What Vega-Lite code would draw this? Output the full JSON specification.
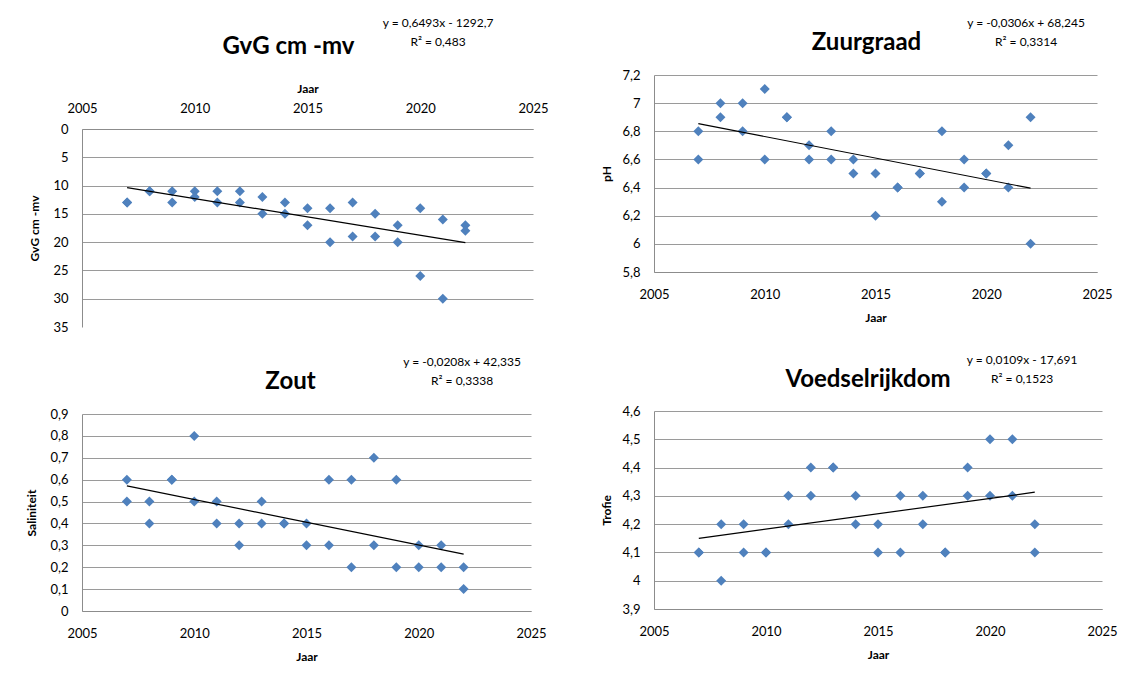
{
  "$schema": "https://vega.github.io/schema/vega-lite/v6.json",
  "background": "white",
  "padding": {"left": 25, "top": 17, "right": 0, "bottom": 0},
  "config": {
    "locale": {"number": {"decimal": ",", "thousands": ".", "grouping": [3], "currency": ["€", ""]}},
    "font": "Lato",
    "view": {"stroke": null},
    "title": {"font": "Lato", "color": "#000000"},
    "axis": {
      "domainColor": "#8c8c8c",
      "domainWidth": 1,
      "gridColor": "#9a9a9a",
      "gridWidth": 1,
      "ticks": false,
      "labelFont": "Lato",
      "labelFontSize": 13,
      "labelColor": "#000000",
      "titleFont": "Lato",
      "titleFontSize": 12,
      "titleFontWeight": "bold",
      "titleColor": "#000000"
    },
    "axisX": {"grid": false, "labelPadding": 16, "titlePadding": 11, "format": "d", "labelFlush": false},
    "axisY": {"grid": true, "labelPadding": 14, "titlePadding": 8, "format": "~g"}
  },
  "datasets": {
    "gvg": [
      {"Jaar": 2007, "Waarde": 13}, {"Jaar": 2007, "Waarde": 13},
      {"Jaar": 2008, "Waarde": 11}, {"Jaar": 2008, "Waarde": 11},
      {"Jaar": 2009, "Waarde": 11}, {"Jaar": 2009, "Waarde": 13},
      {"Jaar": 2010, "Waarde": 11}, {"Jaar": 2010, "Waarde": 12},
      {"Jaar": 2011, "Waarde": 11}, {"Jaar": 2011, "Waarde": 13},
      {"Jaar": 2012, "Waarde": 11}, {"Jaar": 2012, "Waarde": 13},
      {"Jaar": 2013, "Waarde": 12}, {"Jaar": 2013, "Waarde": 15},
      {"Jaar": 2014, "Waarde": 13}, {"Jaar": 2014, "Waarde": 15},
      {"Jaar": 2015, "Waarde": 14}, {"Jaar": 2015, "Waarde": 17},
      {"Jaar": 2016, "Waarde": 14}, {"Jaar": 2016, "Waarde": 20},
      {"Jaar": 2017, "Waarde": 13}, {"Jaar": 2017, "Waarde": 19},
      {"Jaar": 2018, "Waarde": 15}, {"Jaar": 2018, "Waarde": 19},
      {"Jaar": 2019, "Waarde": 17}, {"Jaar": 2019, "Waarde": 20},
      {"Jaar": 2020, "Waarde": 14}, {"Jaar": 2020, "Waarde": 26},
      {"Jaar": 2021, "Waarde": 16}, {"Jaar": 2021, "Waarde": 30},
      {"Jaar": 2022, "Waarde": 17}, {"Jaar": 2022, "Waarde": 18}
    ],
    "ph": [
      {"Jaar": 2007, "Waarde": 6.8}, {"Jaar": 2007, "Waarde": 6.6},
      {"Jaar": 2008, "Waarde": 7.0}, {"Jaar": 2008, "Waarde": 6.9},
      {"Jaar": 2009, "Waarde": 7.0}, {"Jaar": 2009, "Waarde": 6.8},
      {"Jaar": 2010, "Waarde": 7.1}, {"Jaar": 2010, "Waarde": 6.6},
      {"Jaar": 2011, "Waarde": 6.9}, {"Jaar": 2011, "Waarde": 6.9},
      {"Jaar": 2012, "Waarde": 6.7}, {"Jaar": 2012, "Waarde": 6.6},
      {"Jaar": 2013, "Waarde": 6.8}, {"Jaar": 2013, "Waarde": 6.6},
      {"Jaar": 2014, "Waarde": 6.6}, {"Jaar": 2014, "Waarde": 6.5},
      {"Jaar": 2015, "Waarde": 6.5}, {"Jaar": 2015, "Waarde": 6.2},
      {"Jaar": 2016, "Waarde": 6.4}, {"Jaar": 2016, "Waarde": 6.4},
      {"Jaar": 2017, "Waarde": 6.5}, {"Jaar": 2017, "Waarde": 6.5},
      {"Jaar": 2018, "Waarde": 6.8}, {"Jaar": 2018, "Waarde": 6.3},
      {"Jaar": 2019, "Waarde": 6.6}, {"Jaar": 2019, "Waarde": 6.4},
      {"Jaar": 2020, "Waarde": 6.5}, {"Jaar": 2020, "Waarde": 6.5},
      {"Jaar": 2021, "Waarde": 6.7}, {"Jaar": 2021, "Waarde": 6.4},
      {"Jaar": 2022, "Waarde": 6.9}, {"Jaar": 2022, "Waarde": 6.0}
    ],
    "zout": [
      {"Jaar": 2007, "Waarde": 0.6}, {"Jaar": 2007, "Waarde": 0.5},
      {"Jaar": 2008, "Waarde": 0.5}, {"Jaar": 2008, "Waarde": 0.4},
      {"Jaar": 2009, "Waarde": 0.6}, {"Jaar": 2009, "Waarde": 0.6},
      {"Jaar": 2010, "Waarde": 0.8}, {"Jaar": 2010, "Waarde": 0.5},
      {"Jaar": 2011, "Waarde": 0.5}, {"Jaar": 2011, "Waarde": 0.4},
      {"Jaar": 2012, "Waarde": 0.4}, {"Jaar": 2012, "Waarde": 0.3},
      {"Jaar": 2013, "Waarde": 0.5}, {"Jaar": 2013, "Waarde": 0.4},
      {"Jaar": 2014, "Waarde": 0.4}, {"Jaar": 2014, "Waarde": 0.4},
      {"Jaar": 2015, "Waarde": 0.4}, {"Jaar": 2015, "Waarde": 0.3},
      {"Jaar": 2016, "Waarde": 0.6}, {"Jaar": 2016, "Waarde": 0.3},
      {"Jaar": 2017, "Waarde": 0.6}, {"Jaar": 2017, "Waarde": 0.2},
      {"Jaar": 2018, "Waarde": 0.7}, {"Jaar": 2018, "Waarde": 0.3},
      {"Jaar": 2019, "Waarde": 0.6}, {"Jaar": 2019, "Waarde": 0.2},
      {"Jaar": 2020, "Waarde": 0.3}, {"Jaar": 2020, "Waarde": 0.2},
      {"Jaar": 2021, "Waarde": 0.3}, {"Jaar": 2021, "Waarde": 0.2},
      {"Jaar": 2022, "Waarde": 0.2}, {"Jaar": 2022, "Waarde": 0.1}
    ],
    "trofie": [
      {"Jaar": 2007, "Waarde": 4.1}, {"Jaar": 2007, "Waarde": 4.1},
      {"Jaar": 2008, "Waarde": 4.2}, {"Jaar": 2008, "Waarde": 4.0},
      {"Jaar": 2009, "Waarde": 4.2}, {"Jaar": 2009, "Waarde": 4.1},
      {"Jaar": 2010, "Waarde": 4.1}, {"Jaar": 2010, "Waarde": 4.1},
      {"Jaar": 2011, "Waarde": 4.3}, {"Jaar": 2011, "Waarde": 4.2},
      {"Jaar": 2012, "Waarde": 4.4}, {"Jaar": 2012, "Waarde": 4.3},
      {"Jaar": 2013, "Waarde": 4.4}, {"Jaar": 2013, "Waarde": 4.4},
      {"Jaar": 2014, "Waarde": 4.3}, {"Jaar": 2014, "Waarde": 4.2},
      {"Jaar": 2015, "Waarde": 4.2}, {"Jaar": 2015, "Waarde": 4.1},
      {"Jaar": 2016, "Waarde": 4.3}, {"Jaar": 2016, "Waarde": 4.1},
      {"Jaar": 2017, "Waarde": 4.3}, {"Jaar": 2017, "Waarde": 4.2},
      {"Jaar": 2018, "Waarde": 4.1}, {"Jaar": 2018, "Waarde": 4.1},
      {"Jaar": 2019, "Waarde": 4.4}, {"Jaar": 2019, "Waarde": 4.3},
      {"Jaar": 2020, "Waarde": 4.5}, {"Jaar": 2020, "Waarde": 4.3},
      {"Jaar": 2021, "Waarde": 4.5}, {"Jaar": 2021, "Waarde": 4.3},
      {"Jaar": 2022, "Waarde": 4.2}, {"Jaar": 2022, "Waarde": 4.1}
    ]
  },
  "spacing": 51,
  "hconcat": [
    {
      "spacing": 22,
      "vconcat": [
        {
          "title": {"text": ["y = 0,6493x - 1292,7", "R² = 0,483"], "anchor": "end", "align": "center", "frame": "bounds", "dx": -110, "dy": 18, "fontSize": 12, "fontWeight": "normal", "lineHeight": 19},
          "vconcat": [
            {
              "width": 451, "height": 252,
              "title": {"text": "GvG cm -mv", "fontSize": 24, "fontWeight": "bold", "anchor": "middle", "frame": "group", "dx": -19, "offset": 16},
              "data": {"name": "gvg"},
              "encoding": {
                "x": {"field": "Jaar", "type": "quantitative", "scale": {"domain": [2005, 2025], "nice": false, "zero": false}, "axis": {"orient": "top", "offset": -54, "values": [2005, 2010, 2015, 2020, 2025], "title": "Jaar", "labelPadding": 14, "titlePadding": 7}},
                "y": {"field": "Waarde", "type": "quantitative", "scale": {"domain": [0, 35], "range": [54, 252], "nice": false}, "axis": {"values": [0, 5, 10, 15, 20, 25, 30, 35], "title": "GvG cm -mv", "titlePadding": 11, "gridOpacity": {"condition": {"test": "datum.value >= 35", "value": 0}, "value": 1}}}
              },
              "layer": [
                {"mark": {"type": "point", "shape": "diamond", "filled": true, "size": 100, "color": "#4F81BD", "opacity": 1}},
                {"transform": [{"regression": "Waarde", "on": "Jaar"}], "mark": {"type": "line", "color": "#000000", "strokeWidth": 1.2}}
              ]
            }
          ]
        },
        {
          "title": {"text": ["y = -0,0208x + 42,335", "R² = 0,3338"], "anchor": "end", "align": "center", "frame": "bounds", "dx": -84, "dy": 22, "fontSize": 12, "fontWeight": "normal", "lineHeight": 19},
          "vconcat": [
            {
              "width": 449, "height": 197,
              "title": {"text": "Zout", "fontSize": 24, "fontWeight": "bold", "anchor": "middle", "frame": "group", "dx": -16, "offset": 14},
              "data": {"name": "zout"},
              "encoding": {
                "x": {"field": "Jaar", "type": "quantitative", "scale": {"domain": [2005, 2025], "nice": false, "zero": false}, "axis": {"values": [2005, 2010, 2015, 2020, 2025], "title": "Jaar"}},
                "y": {"field": "Waarde", "type": "quantitative", "scale": {"domain": [0, 0.9], "nice": false}, "axis": {"values": [0, 0.1, 0.2, 0.3, 0.4, 0.5, 0.6, 0.7, 0.8, 0.9], "title": "Saliniteit", "titlePadding": 11}}
              },
              "layer": [
                {"mark": {"type": "point", "shape": "diamond", "filled": true, "size": 100, "color": "#4F81BD", "opacity": 1}},
                {"transform": [{"regression": "Waarde", "on": "Jaar"}], "mark": {"type": "line", "color": "#000000", "strokeWidth": 1.2}}
              ]
            }
          ]
        }
      ]
    },
    {
      "spacing": 31,
      "vconcat": [
        {
          "title": {"text": ["y = -0,0306x + 68,245", "R² = 0,3314"], "anchor": "end", "align": "center", "frame": "bounds", "dx": -86, "dy": 22, "fontSize": 12, "fontWeight": "normal", "lineHeight": 19},
          "vconcat": [
            {
              "width": 443, "height": 197,
              "title": {"text": "Zuurgraad", "fontSize": 24, "fontWeight": "bold", "anchor": "middle", "frame": "group", "dx": -9, "offset": 14},
              "data": {"name": "ph"},
              "encoding": {
                "x": {"field": "Jaar", "type": "quantitative", "scale": {"domain": [2005, 2025], "nice": false, "zero": false}, "axis": {"values": [2005, 2010, 2015, 2020, 2025], "title": "Jaar"}},
                "y": {"field": "Waarde", "type": "quantitative", "scale": {"domain": [5.8, 7.2], "nice": false, "zero": false}, "axis": {"values": [5.8, 6.0, 6.2, 6.4, 6.6, 6.8, 7.0, 7.2], "title": "pH"}}
              },
              "layer": [
                {"mark": {"type": "point", "shape": "diamond", "filled": true, "size": 100, "color": "#4F81BD", "opacity": 1}},
                {"transform": [{"regression": "Waarde", "on": "Jaar"}], "mark": {"type": "line", "color": "#000000", "strokeWidth": 1.2}}
              ]
            }
          ]
        },
        {
          "title": {"text": ["y = 0,0109x - 17,691", "R² = 0,1523"], "anchor": "end", "align": "center", "frame": "bounds", "dx": -95, "dy": 22, "fontSize": 12, "fontWeight": "normal", "lineHeight": 19},
          "vconcat": [
            {
              "width": 448, "height": 198,
              "title": {"text": "Voedselrijkdom", "fontSize": 24, "fontWeight": "bold", "anchor": "middle", "frame": "group", "dx": -10, "offset": 13},
              "data": {"name": "trofie"},
              "encoding": {
                "x": {"field": "Jaar", "type": "quantitative", "scale": {"domain": [2005, 2025], "nice": false, "zero": false}, "axis": {"values": [2005, 2010, 2015, 2020, 2025], "title": "Jaar"}},
                "y": {"field": "Waarde", "type": "quantitative", "scale": {"domain": [3.9, 4.6], "nice": false, "zero": false}, "axis": {"values": [3.9, 4.0, 4.1, 4.2, 4.3, 4.4, 4.5, 4.6], "title": "Trofie"}}
              },
              "layer": [
                {"mark": {"type": "point", "shape": "diamond", "filled": true, "size": 100, "color": "#4F81BD", "opacity": 1}},
                {"transform": [{"regression": "Waarde", "on": "Jaar"}], "mark": {"type": "line", "color": "#000000", "strokeWidth": 1.2}}
              ]
            }
          ]
        }
      ]
    }
  ]
}
